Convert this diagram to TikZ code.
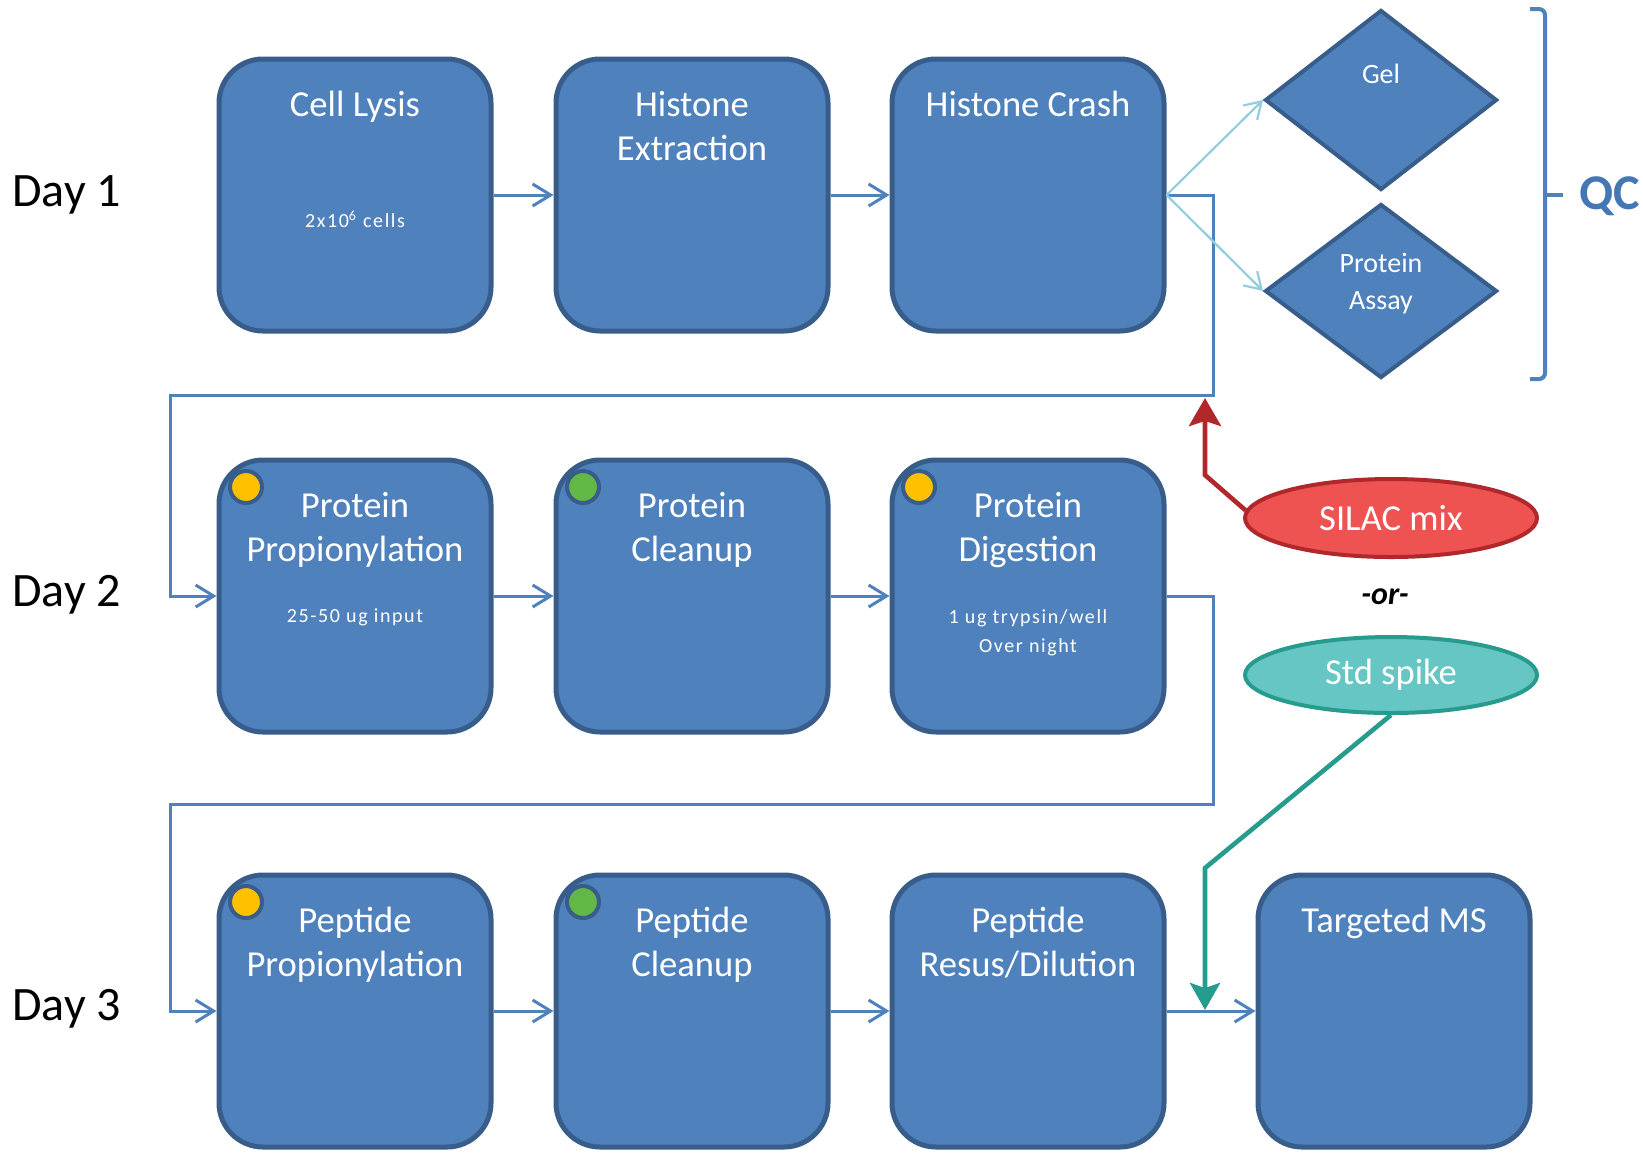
\documentclass[tikz,border=0pt]{standalone}
\usepackage{fontspec}
\setmainfont{Carlito}
\usetikzlibrary{arrows.meta,shapes.geometric,calc}
\definecolor{boxfill}{HTML}{4F81BD}
\definecolor{boxdraw}{HTML}{385D8A}
\definecolor{conn}{HTML}{4F81BD}
\definecolor{qcblue}{HTML}{4677B5}
\definecolor{lightconn}{HTML}{93CDDD}
\definecolor{silacfill}{HTML}{EE5351}
\definecolor{silacdraw}{HTML}{B0282C}
\definecolor{stdfill}{HTML}{66C6C3}
\definecolor{stddraw}{HTML}{279B8D}
\definecolor{dotorange}{HTML}{FFC000}
\definecolor{dotgreen}{HTML}{62B846}
\begin{document}
\begin{tikzpicture}[x=0.5pt,y=-0.5pt,
 stepbox/.style={draw=boxdraw, fill=boxfill, line width=2.5pt, rounded corners=22pt,
   minimum width=136pt, minimum height=136pt, inner sep=0pt},
 title/.style={anchor=north, align=center, text=white, font=\fontsize{18.3}{22}\selectfont, inner sep=0pt},
 subtext/.style={align=center, text=white, font=\fontsize{10}{14.5}\selectfont\addfontfeatures{LetterSpace=8}, inner sep=0pt},
 dot/.style={circle, draw=boxdraw, line width=2pt, minimum size=16pt, inner sep=0pt},
 day/.style={anchor=west, font=\fontsize{24}{28}\selectfont, inner sep=0pt},
 qcdiamond/.style={diamond, draw=boxdraw, fill=boxfill, line width=2pt, minimum width=116pt, inner sep=0pt},
 dtext/.style={align=center, text=white, font=\fontsize{14}{18.5}\selectfont, inner sep=0pt},
 flow/.style={draw=conn, line width=1.5pt, -{Straight Barb[length=9pt,width=11pt]}},
 qcflow/.style={draw=lightconn, line width=1.1pt, -{Straight Barb[length=8pt,width=10pt]}},
 silacflow/.style={draw=silacdraw, line width=2.3pt, -{Stealth[length=14pt,width=16pt,inset=2.5pt]}},
 stdflow/.style={draw=stddraw, line width=2.3pt, -{Stealth[length=13.5pt,width=15pt,inset=2.5pt]}},
 bracket/.style={draw=conn, line width=2pt}
]
\useasboundingbox (0,0) rectangle (1643,1153);

% Day labels
\node[day] (d1) at (12,195) {Day 1};
\node[day] (d2) at (12,595) {Day 2};
\node[day] (d3) at (12,1009) {Day 3};

% Row 1
\node[stepbox] (cl) at (355,195) {};
\node[stepbox] (he) at (692,195) {};
\node[stepbox] (hc) at (1028,195) {};
\node[title] (clt) at ([yshift=-14.5pt]cl.north) {\strut Cell Lysis};
\node[subtext] (cls) at ([yshift=-81.5pt]cl.north) {2x10\textsuperscript{6} cells};
\node[title] (het) at ([yshift=-14.5pt]he.north) {\strut Histone\\Extraction};
\node[title] (hct) at ([yshift=-14.5pt]hc.north) {\strut Histone Crash};

% Row 2
\node[stepbox] (pp) at (355,596) {};
\node[stepbox] (pc) at (692,596) {};
\node[stepbox] (pd) at (1028,596) {};
\node[title] (ppt) at ([yshift=-14.5pt]pp.north) {\strut Protein\\Propionylation};
\node[subtext] (pps) at ([yshift=-80pt]pp.north) {25-50 ug input};
\node[title] (pct) at ([yshift=-14.5pt]pc.north) {\strut Protein\\Cleanup};
\node[title] (pdt) at ([yshift=-14.5pt]pd.north) {\strut Protein\\Digestion};
\node[subtext] (pds) at ([yshift=-87.5pt]pd.north) {1 ug trypsin/well\\Over night};
\node[dot, fill=dotorange] (ppdot) at ([xshift=14.75pt,yshift=-14.75pt]pp.north west) {};
\node[dot, fill=dotgreen] (pcdot) at ([xshift=14.75pt,yshift=-14.75pt]pc.north west) {};
\node[dot, fill=dotorange] (pddot) at ([xshift=14.75pt,yshift=-14.75pt]pd.north west) {};

% Row 3
\node[stepbox] (ppp) at (355,1011) {};
\node[stepbox] (pcl) at (692,1011) {};
\node[stepbox] (prd) at (1028,1011) {};
\node[stepbox] (tms) at (1394,1011) {};
\node[title] (pppt) at ([yshift=-14.5pt]ppp.north) {\strut Peptide\\Propionylation};
\node[title] (pclt) at ([yshift=-14.5pt]pcl.north) {\strut Peptide\\Cleanup};
\node[title] (prdt) at ([yshift=-14.5pt]prd.north) {\strut Peptide\\Resus/Dilution};
\node[title] (tmst) at ([yshift=-14.5pt]tms.north) {\strut Targeted MS};
\node[dot, fill=dotorange] (pppdot) at ([xshift=14.75pt,yshift=-14.75pt]ppp.north west) {};
\node[dot, fill=dotgreen] (pcldot) at ([xshift=14.75pt,yshift=-14.75pt]pcl.north west) {};

% QC diamonds
\node[qcdiamond, minimum height=90pt] (gel) at (1381,100) {};
\node[qcdiamond, minimum height=87pt] (pa) at (1381,291) {};
\node[dtext] (gelt) at (1381,74) {Gel};
\node[dtext] (pat) at (1381,284) {Protein\\Assay};

% QC bracket and label
\draw[bracket, rounded corners=3pt] (1530,9) -- (1545,9) -- (1545,379) -- (1530,379);
\draw[bracket] (1545,195) -- (1563,195);
\node[anchor=west, font=\fontsize{25}{30}\selectfont\bfseries, text=qcblue, inner sep=0pt] (qc) at (1579,196) {QC};

% Ellipses
\node[ellipse, draw=silacdraw, fill=silacfill, line width=2pt, minimum width=146pt, minimum height=39pt,
  inner sep=0pt, text=white, font=\fontsize{18.3}{22}\selectfont] (silac) at (1391,518) {SILAC mix};
\node[font=\fontsize{16}{18}\selectfont\bfseries\itshape, inner sep=0pt] (or) at (1385,597) {-or-};
\node[ellipse, draw=stddraw, fill=stdfill, line width=2pt, minimum width=146pt, minimum height=38pt,
  inner sep=0pt, text=white, font=\fontsize{18.3}{22}\selectfont] (std) at (1391,675) {Std spike};

% Connectors
\coordinate (j1) at (1213,395);
\coordinate (j2) at (170,395);
\coordinate (j3) at (1213,804);
\coordinate (j4) at (170,804);
\coordinate (r1) at (1205,475);
\coordinate (r2) at (1205,398);
\coordinate (t1) at (1205,868);
\coordinate (t2) at (1205,1010);

\draw[flow] (cl.east) -- (he.west);
\draw[flow] (he.east) -- (hc.west);
\draw[flow] (hc.east) -| (j1) -- (j2) |- (pp.west);
\draw[flow] (pp.east) -- (pc.west);
\draw[flow] (pc.east) -- (pd.west);
\draw[flow] (pd.east) -| (j3) -- (j4) |- (ppp.west);
\draw[flow] (ppp.east) -- (pcl.west);
\draw[flow] (pcl.east) -- (prd.west);
\draw[flow] (prd.east) -- (tms.west);
\draw[qcflow] (hc.east) -- (gel.west);
\draw[qcflow] (hc.east) -- (pa.west);
\draw[silacflow] (silac.177) -- (r1) -- (r2);
\draw[stdflow] (std.south) -- (t1) -- (t2);
\end{tikzpicture}
\end{document}
